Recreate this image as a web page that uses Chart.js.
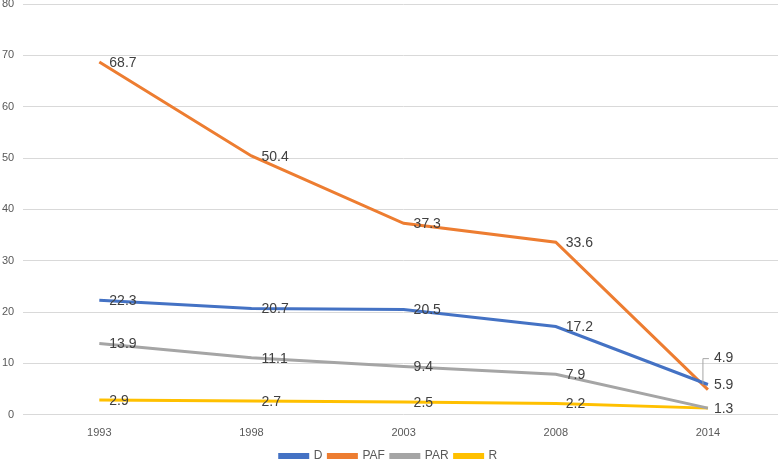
<!DOCTYPE html>
<html>
<head>
<meta charset="utf-8">
<script src="https://cdn.jsdelivr.net/npm/chart.js@4/dist/chart.umd.min.js"></script>
<style>
  html, body { margin: 0; padding: 0; background: #fff; }
  #wrap { width: 778px; height: 460px; overflow: hidden; }
</style>
</head>
<body>
<div id="wrap"><canvas id="chart" width="784" height="460"></canvas></div>
<script>
const years = ['1993', '1998', '2003', '2008', '2014'];
const seriesD = [22.3, 20.7, 20.5, 17.2, 5.9];
const seriesPAF = [68.7, 50.4, 37.3, 33.6, 4.9];
const seriesPAR = [13.9, 11.1, 9.4, 7.9, 1.3];
const seriesR = [2.9, 2.7, 2.5, 2.2, 1.3];
const yTicks = [0, 10, 20, 30, 40, 50, 60, 70, 80];

const FONT = "'Liberation Sans', Arial, sans-serif";

// data labels drawn to the right of each point, like Excel
const valueLabels = {
    id: 'valueLabels',
    afterDatasetsDraw(chart) {
        const ctx = chart.ctx;
        ctx.save();
        ctx.font = '14px ' + FONT;
        ctx.fillStyle = '#404040';
        ctx.textBaseline = 'middle';
        ctx.textAlign = 'left';
        chart.data.datasets.forEach((ds, i) => {
            const meta = chart.getDatasetMeta(i);
            meta.data.forEach((pt, j) => {
                const last = j === ds.data.length - 1;
                if (last && ds.label === 'R') return; // hidden behind PAR label
                let x = pt.x + 10;
                let y = pt.y + 1;
                if (last) x = pt.x + 6;
                if (last && ds.label === 'PAF') {
                    // label pulled up with a leader line
                    const ly = pt.y - 31;
                    ctx.strokeStyle = '#a6a6a6';
                    ctx.lineWidth = 1;
                    ctx.beginPath();
                    ctx.moveTo(pt.x - 5, pt.y - 5);
                    ctx.lineTo(pt.x - 5, ly);
                    ctx.lineTo(pt.x + 1, ly);
                    ctx.stroke();
                    y = ly;
                }
                ctx.fillText(ds.data[j].toFixed(1), x, y);
            });
        });
        ctx.restore();
    }
};

function line(label, data, color) {
    return {
        label: label,
        data: data,
        borderColor: color,
        backgroundColor: color,
        borderWidth: 3,
        pointRadius: 0,
        tension: 0
    };
}

new Chart(document.getElementById('chart'), {
    type: 'line',
    data: {
        labels: years,
        datasets: [
            line('D', seriesD, '#4472c4'),
            line('PAF', seriesPAF, '#ed7d31'),
            line('PAR', seriesPAR, '#a5a5a5'),
            line('R', seriesR, '#ffc000')
        ]
    },
    options: {
        responsive: false,
        animation: false,
        layout: { padding: { top: 4, right: 0, left: -7, bottom: -12 } },
        plugins: {
            legend: {
                position: 'bottom',
                labels: {
                    boxWidth: 28,
                    boxHeight: 3,
                    padding: 6,
                    color: '#595959',
                    font: { family: FONT, size: 12 }
                }
            },
            tooltip: { enabled: false }
        },
        scales: {
            x: {
                offset: true,
                grid: { display: false },
                border: { display: false },
                ticks: { color: '#595959', font: { family: FONT, size: 11 }, padding: 4 }
            },
            y: {
                min: 0,
                max: 80,
                afterBuildTicks(axis) {
                    axis.ticks = yTicks.map(v => ({ value: v }));
                },
                afterFit(axis) {
                    // let the top label sit at the canvas edge, as in the original
                    axis.paddingTop = 0;
                },
                grid: { color: '#d9d9d9', drawTicks: false },
                border: { display: false },
                ticks: { color: '#595959', font: { family: FONT, size: 11 }, padding: 9 }
            }
        }
    },
    plugins: [valueLabels]
});
</script>
</body>
</html>
